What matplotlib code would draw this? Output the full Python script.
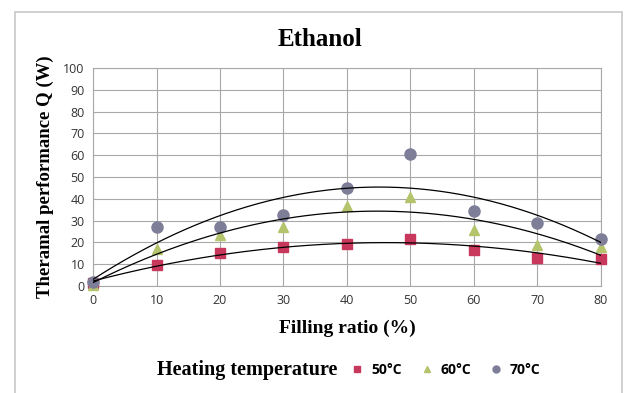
import numpy as np
import matplotlib.pyplot as plt
from matplotlib.patches import Rectangle
from matplotlib.lines import Line2D

ratio = [0, 10, 20, 30, 40, 50, 60, 70, 80]
q50 = [1.5, 9.5, 15, 18, 19.5, 21.5, 16.5, 13, 12.5]
q60 = [0.5, 17, 23.5, 27, 36.5, 41, 25.5, 19, 18]
q70 = [2, 27, 27, 32.5, 45, 60.5, 34.5, 29, 21.5]
labels = ['50°C', '60°C', '70°C']

fig = plt.figure(figsize=(6.29, 3.93), dpi=100)
ax = fig.add_axes([0.148, 0.272, 0.807, 0.555])

# outer frame like the excel chart area
fig.patches.append(Rectangle((15 / 629, -0.05), 607 / 629, 1 - 12 / 393 + 0.05,
                             transform=fig.transFigure, fill=False,
                             ec='#c8c8c8', lw=1.2))

series = [
    (q50, 's', '#c8385c', 7),
    (q60, '^', '#b4c46c', 7),
    (q70, 'o', '#7e7e98', 8),
]
xs = np.linspace(0, 80, 200)
handles = []
for (q, m, c, s), lab in zip(series, labels):
    ax.plot(ratio, q, ls='none', marker=m, ms=s, color=c, mec=c,
            clip_on=False, zorder=3)
    p = np.polyfit(ratio, q, 2)
    ax.plot(xs, np.polyval(p, xs), color='black', lw=0.9, zorder=4)
    handles.append(Line2D([], [], ls='none', marker=m, ms=5, color=c, mec=c))

ax.set_xlim(0, 80)
ax.set_ylim(0, 100)
ax.set_xticks(range(0, 81, 10))
ax.set_yticks(range(0, 101, 10))
ax.grid(True, color='#a8a8a8', lw=0.8)
ax.set_axisbelow(True)
for sp in ax.spines.values():
    sp.set_color('#a8a8a8')
    sp.set_linewidth(0.8)
ax.tick_params(length=0, labelsize=9, labelcolor='#333333', pad=6)
for t in ax.get_xticklabels() + ax.get_yticklabels():
    t.set_family('Open Sans')

fig.text(320 / 629, 1 - 40 / 393, 'Ethanol', family='Liberation Serif',
         weight='bold', fontsize=18, ha='center', va='center')
ax.set_xlabel('Filling ratio (%)', family='Liberation Serif', weight='bold',
              fontsize=14, labelpad=9)
ax.set_ylabel('Theramal performance Q (W)', family='Liberation Serif', weight='bold',
              fontsize=13.5, labelpad=7)

fig.text(157 / 629, 0.058, 'Heating temperature', family='Liberation Serif',
         weight='bold', fontsize=14.5, va='center')
fig.legend(handles, labels, ncol=3, loc='center left',
           bbox_to_anchor=(0.537, 0.058), frameon=False, handlelength=1,
           handletextpad=0.5, columnspacing=1.3,
           prop={'family': 'Open Sans', 'weight': 'bold', 'size': 10})

fig.savefig('out.png', dpi=100)
